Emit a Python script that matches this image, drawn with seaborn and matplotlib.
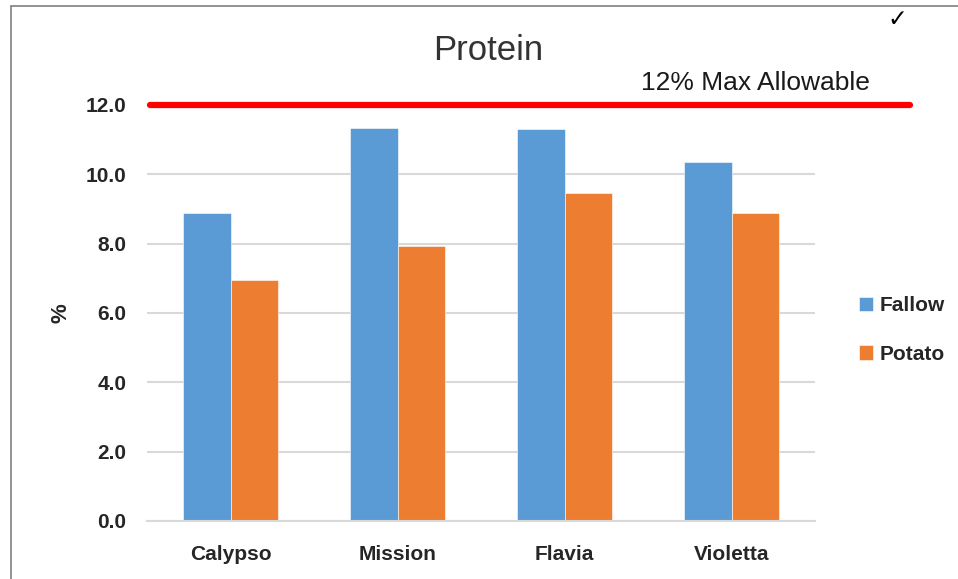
import matplotlib
matplotlib.use("Agg")
import matplotlib.pyplot as plt
from matplotlib.patches import Rectangle
import seaborn as sns
import pandas as pd

varieties = ["Calypso", "Mission", "Flavia", "Violetta"]
fallow = [8.88, 11.35, 11.31, 10.36]
potato = [6.95, 7.92, 9.45, 8.88]
series_names = ["Fallow", "Potato"]
series_colors = ["#5B9BD5", "#ED7D31"]
max_allowable = 12.0
y_ticks = [0, 2, 4, 6, 8, 10, 12]

df = pd.DataFrame({
    "variety": varieties * 2,
    "protein": fallow + potato,
    "rotation": [series_names[0]] * len(varieties) + [series_names[1]] * len(varieties),
})

sns.set_theme(style="white")
plt.rcParams["font.family"] = ["Liberation Sans", "DejaVu Sans"]

fig = plt.figure(figsize=(9.58, 5.79), dpi=100)
ax = fig.add_axes([147 / 958, 1 - 521 / 579, 668 / 958, 416 / 579])

sns.barplot(data=df, x="variety", y="protein", hue="rotation",
            palette=series_colors, width=0.57, gap=0, saturation=1,
            edgecolor="white", linewidth=0.4, ax=ax, legend=True)

ax.set_ylim(0, 12)
ax.set_yticks(y_ticks)
ax.set_yticklabels([f"{t:.1f}" for t in y_ticks])
ax.set_xlim(-0.5, len(varieties) - 0.5)
ax.grid(axis="y", color="#d9d9d9", linewidth=1.5)
ax.set_axisbelow(True)
for s in ["top", "right", "left"]:
    ax.spines[s].set_visible(False)
ax.spines["bottom"].set_color("#d9d9d9")
ax.spines["bottom"].set_linewidth(1.5)
ax.tick_params(axis="both", length=0, labelsize=15, colors="#262626")
ax.tick_params(axis="y", pad=15)
ax.tick_params(axis="x", pad=17)
for lbl in ax.get_xticklabels() + ax.get_yticklabels():
    lbl.set_fontweight("bold")
ax.set_xlabel("")
ax.set_ylabel("%", fontsize=16, fontweight="bold", color="#262626", labelpad=10)

# Maximum allowable protein limit
ax.axhline(max_allowable, xmin=0.005, xmax=(910 - 147) / 668, color="#ff0000",
           linewidth=4.5, clip_on=False, zorder=5)
ax.text((870 - 147) / 668, max_allowable + 0.3, "12% Max Allowable",
        transform=ax.get_yaxis_transform(), ha="right", va="bottom",
        fontsize=19, color="#1a1a1a", clip_on=False)

fig.text(488 / 958, 1 - 51 / 579, "Protein", ha="center", va="center",
         fontsize=25, color="#333333")
fig.text(897 / 958, 1 - 19 / 579, "\u2713", ha="center", va="center",
         fontsize=17, color="black", family="DejaVu Sans")

handles, labels = ax.get_legend_handles_labels()
ax.legend(handles, labels, loc="center left", bbox_to_anchor=(840 / 958, 1 - 330 / 579),
          bbox_transform=fig.transFigure, frameon=False,
          handlelength=0.7, handleheight=0.7, handletextpad=0.3, labelspacing=1.4,
          prop={"weight": "bold", "size": 15})

# Outer chart border
fig.patches.append(Rectangle((11 / 958, -0.1), 1.2, 1 - 6 / 579 + 0.1,
                             transform=fig.transFigure, fill=False,
                             edgecolor="#7f7f7f", linewidth=1.2))

fig.savefig("out.png", dpi=100)
